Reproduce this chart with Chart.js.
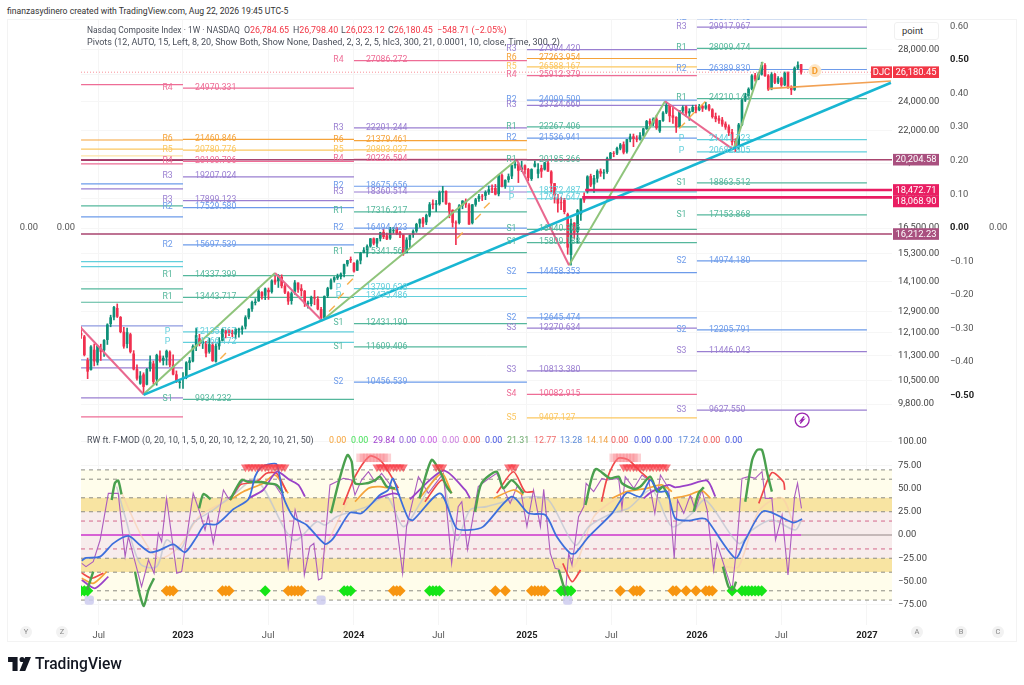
<!DOCTYPE html>
<html><head><meta charset="utf-8">
<script src="https://cdn.jsdelivr.net/npm/chart.js@4/dist/chart.umd.min.js"></script>
<style>
html,body{margin:0;padding:0;background:#fff;width:1024px;height:685px;overflow:hidden;font-family:Roboto,sans-serif}
canvas{position:absolute;left:0}
#frame{position:absolute;left:7px;top:19px;width:1010px;height:623px;border:1px solid #f3f3f3;box-sizing:border-box}
.t{position:absolute;white-space:nowrap;color:#4a4f5a;font-size:9.2px;line-height:12px}
.r{color:#f23645}
.c{position:absolute;width:12px;height:12px;border-radius:50%;background:#f2f2f2;color:#888;font-size:7.5px;line-height:12px;text-align:center}
#pt{position:absolute;left:894px;top:22px;width:45px;height:18px;border:1px solid #f0f0f0;border-radius:3px;box-sizing:border-box;font-size:9.4px;line-height:16px;color:#333;padding-left:7px;background:#fff}
</style></head><body>
<div id="frame"></div>
<canvas id="main" width="1024" height="411" style="top:19px"></canvas>
<canvas id="lower" width="1024" height="212" style="top:430px"></canvas>
<div class="t" style="left:7px;top:5px;color:#333;font-size:8.65px">finanzasydinero created with TradingView.com, Aug 22, 2026 19:45 UTC-5</div>
<div class="t" style="left:87px;top:24px;font-size:8.45px">Nasdaq Composite Index · 1W · NASDAQ</div>
<div class="t" style="left:244px;top:24px;font-size:8.9px">O<span class="r">26,784.65</span></div>
<div class="t" style="left:293px;top:24px;font-size:8.9px">H<span class="r">26,798.40</span></div>
<div class="t" style="left:341px;top:24px;font-size:8.9px">L<span class="r">26,023.12</span></div>
<div class="t" style="left:388px;top:24px;font-size:8.9px">C<span class="r">26,180.45</span></div>
<div class="t" style="left:437px;top:24px;font-size:8.9px"><span class="r">−548.71 (−2.05%)</span></div>
<div class="t" style="left:87px;top:36px;font-size:9.03px">Pivots (12, AUTO, 15, Left, 8, 20, Show Both, Show None, Dashed, 2, 3, 2, 5, hlc3, 300, 21, 0.0001, 10, close, Time, 300, 2)</div>
<div class="t" style="left:87px;top:434px;font-size:8.85px">RW ft. F-MOD (0, 20, 10, 1, 5, 0, 20, 10, 12, 2, 20, 10, 21, 50)</div>
<div id="pt">point</div>
<div class="c" style="left:20px;top:626px">Y</div><div class="c" style="left:56px;top:626px">Z</div>
<div class="c" style="left:911px;top:626px">A</div><div class="c" style="left:955px;top:626px">B</div><div class="c" style="left:992px;top:626px">C</div>
<svg style="position:absolute;left:8px;top:657px" width="23" height="14" viewBox="0 0 36 22"><path d="M0 0H15V22H7V8H0Z M22 0a4 4 0 1 1 0 8a4 4 0 1 1 0-8Z M27 0H36L27 22H18Z" fill="#131722"/></svg>
<div class="t" style="left:35px;top:654px;color:#131722;font-size:15.6px;line-height:20px;font-weight:500">TradingView</div>
<script>
// ---------- weekly candles, week 0 = first week of 2023 ----------
const firstWeek = -31;
const weekOpen = [12080,11960,11150,10850,11500,11090,11540,11500,11860,12430,12680,13010,12670,12130,11720,12040,11370,10860,10420,10690,10390,10880,11040,10550,11300,11150,11260,11430,11000,10690,10440,
10560,10600,11080,11130,11620,11900,11730,11740,11450,11670,11120,11640,11830,12170,12130,12080,12050,12200,12230,12340,12680,12990,13230,13300,13640,13520,13730,13670,14150,14110,14270,13900,13620,13310,13680,14030,13790,13690,13190,13190,13430,13360,12970,12660,13510,13790,14150,14240,14290,14420,14840,15040,
14870,14560,15000,15360,15480,15640,15990,15780,16010,16300,16130,16020,16370,16470,16290,16170,15330,15950,16190,16360,16740,16970,16800,17140,17730,17700,17730,18350,18400,17750,17400,16760,16770,17650,17880,17670,16760,17700,18000,18140,18170,18360,18540,18560,18260,19290,18690,19050,19250,19880,19940,19620,
19850,19630,19100,19810,19400,19700,19640,20010,19490,18830,17980,17790,17920,17180,15250,16750,16330,17200,18000,18400,19240,18800,19120,19530,19420,19500,20280,20590,20600,20900,21130,20700,21470,21630,21480,21470,21720,22140,22640,22500,22790,22000,22690,23250,23730,23020,22910,22290,23370,23640,23200,23310,
23600,23420,23660,23540,23720,23430,22960,22820,22720,22460,22270,21900,21330,20900,22420,24100,24420,24920,25920,25640,26020,26720,25900,24920,26020,25420,25720,25220,26120,25020,24870,26510,26784.65];
const weekHigh = [12320,12010,11230,11650,11710,11660,11700,11860,12430,12750,13090,13181,12700,12300,12270,12090,11480,11010,10790,10750,10890,11300,11130,11360,11470,11300,11500,11470,11340,10810,10520,
10760,11110,11250,11680,12270,12050,11880,11800,11910,11750,11710,11930,12250,12200,12230,12200,12270,12270,12350,12730,13000,13290,13390,13830,13670,13820,13820,14160,14300,14380,14370,13990,13670,13660,14130,14030,13960,13720,13290,13490,13720,13470,13050,13500,13850,14200,14290,14400,14450,14830,15000,15150,
14900,15020,15360,15580,15700,16000,16030,16010,16300,16450,16260,16540,16540,16540,16340,16180,16040,16180,16420,16740,16960,17030,17200,17800,17940,17910,18420,18670,18420,17780,17420,16860,17690,17900,17990,17740,17700,18020,18240,18230,18430,18690,18760,18780,19300,19370,19040,19370,19870,20200,20060,20120,
19900,19690,19670,20120,19970,19880,20050,20120,19560,18840,18240,18090,18010,17250,16960,16770,17440,18000,18320,19270,19360,19290,19610,19660,19620,20360,20650,20700,20980,21200,21300,21460,21800,21800,21690,21900,22180,22700,22800,22870,23050,22700,23300,23960,23800,23640,22950,23380,23700,23700,23500,23740,
23750,23800,23760,23950,23800,23500,23200,23000,22900,22600,22400,22100,21500,22500,24200,24600,25000,26000,26100,26150,26950,26850,26000,26150,26100,25850,25800,26200,26200,25150,26600,27000,26798.4];
const weekLow = [11900,11300,10565,10830,10970,11000,11150,11280,11690,12320,12570,12660,12100,11560,11570,11400,10840,10520,10390,10088,10370,10800,10400,10360,11090,11000,11000,10950,10680,10440,10270,
10265,10560,10850,11100,11480,11640,11550,11270,11390,11120,11090,11520,11810,11920,12000,11960,11890,11950,12050,12240,12610,12890,13140,13280,13370,13350,13360,13610,13970,13840,13820,13590,13160,13170,13560,13640,13490,13080,13020,13100,13150,12950,12540,12640,13430,13770,14060,14170,14190,14280,14740,14900,
14480,14550,14840,15330,15150,15590,15700,15620,15880,15990,15950,15960,16250,16180,16040,15220,15340,15570,16050,16290,16540,16560,16670,17060,17470,17330,17660,17830,17700,17010,16550,15710,16700,17470,17540,16680,16700,17600,17850,17900,17950,18230,18320,18200,18150,18640,18560,18900,19100,19700,18880,19500,
19350,18980,19000,19770,19150,19170,19590,19520,18370,17770,17300,17420,17210,15270,14784,16000,15800,16880,17800,18300,18650,18340,18900,19230,19090,19400,20240,20380,20500,20800,20550,20600,21300,21000,21300,21400,21650,22100,22200,22350,22100,21900,22630,23150,22600,22500,21900,22250,23130,22950,22700,23280,
23200,23350,23300,23450,23350,22850,22600,22500,22300,22100,21700,21100,20700,20800,22350,24000,24300,24850,25500,25600,25950,25850,24800,24850,25300,25300,25100,25150,24950,24500,24800,26400,26023.12];
const weekClose = [12013,11340,10798,11607,11128,11635,11452,11834,12391,12657,13047,12705,12141,11630,12112,11448,10868,10576,10652,10321,10860,11102,10475,11323,11146,11226,11461,11005,10705,10497,10466,
10569,11079,11140,11622,12007,11718,11787,11395,11689,11139,11631,11824,12222,12088,12123,12072,12227,12235,12284,12658,12975,13241,13259,13689,13493,13788,13661,14113,14063,14316,13909,13644,13290,13590,14031,13762,13708,13211,13219,13431,13407,12984,12643,13478,13798,14125,14250,14305,14403,14813,14992,15011,
14524,14972,15311,15455,15628,15990,15775,15996,16274,16085,15973,16428,16379,16248,16175,15282,15928,16156,16340,16686,16920,16735,17133,17688,17689,17732,18352,18398,17726,17358,16776,16745,17631,17878,17714,16691,17684,17948,18120,18138,18343,18490,18519,18240,19287,18680,19004,19218,19860,19927,19573,19722,
19622,19162,19630,19954,19627,19523,20026,19524,18847,18196,17754,17784,17323,15588,16724,16286,17383,17978,17929,19211,18737,19114,19530,19407,19447,20273,20601,20585,20896,21108,20650,21450,21623,21497,21456,21700,22141,22631,22484,22781,22204,22680,23205,23725,23005,22901,22273,23366,23578,23195,23307,23593,
23400,23650,23530,23700,23450,22950,22800,22700,22450,22250,21900,21300,20900,22400,24100,24400,24900,25900,25650,26000,26700,25900,24900,26000,25400,25700,25200,26100,25000,24850,26500,26729,26180.45];

// ---------- pivot columns: [first week, last week] ----------
const pivotSpans = [[-31,0],[0,52],[52,104.6],[104.6,156.3],[156.3,208]];
const pivotNames = [
 ['R4','R6','R5','R5b','R4b','R4','R2','R3','R1','R2','P','P','R1','R1','R2b','R2b','R3','R3','R4'],
 ['R4','R6','R5','R4','R3','R3','R2','R2','R1','R1','P','P','S1'],
 ['R4','R3','R6','R5','R4','R2','R3','R1','R2','R1','P','P','S1','S1','S2'],
 ['R3','R6','R5','R4','R2','R3','R1','R2','R1','P','P','S1','S1','S2','S2','S3','S3','S4','S5'],
 ['R2','R3','R1','R2','R1','P','P','S1','S1','S2','S2','S3','S3']];
const pivotValues = [
 [25228,21418,20850,20431,20160,19950,18803,18527,17619,17054,14939,14720,13780,13248,12350,11167,10905,9980,9437],
 [24970.331,21460.846,20780.776,20100.706,19207.024,17899.123,17529.580,15697.539,14337.399,13443.717,12135.767,11766.172,9934.232],
 [27086.272,22201.244,21379.461,20803.027,20226.594,18675.656,18360.514,17316.217,16494.423,15341.561,13790.628,13475.486,12431.190,11609.406,10456.539],
 [27994.420,27263.954,26588.167,25912.379,24099.500,23724.660,22267.406,21536.941,20185.366,18372.487,17997.647,16440.365,15809.188,14458.353,12645.474,12270.634,10813.380,10082.915,9407.127],
 [30677.745,29917.967,28099.474,26389.830,24210.143,21441.723,20682.805,18863.512,17153.868,14974.180,12205.791,11446.043,9627.550]];
const pivotColors = {R6:'#f5a33a',R5:'#fbc761',R5b:'#fde3a7',R4:'#ee6d96',R4b:'#a5305f',R3:'#9a7fd1',R2:'#6d9bea',R2b:'#8f9be0',R1:'#55b79c',P:'#62cfdc',S1:'#55b79c',S2:'#6d9bea',S3:'#9a7fd1',S4:'#ee6d96',S5:'#fbc761'};

// ---------- price overlays [week, value] ----------
const trendLine = [[-12,10069],[215.3,25379]];
const supportLine = [[178.1,24935],[215.3,25506]];
const zigzagDown = [[[-31,12275],[-12,10088]],[[28,14446],[42.3,12543]],[[101.5,20204],[117.4,14784]],[[146.6,24019],[167.4,20820]]];
const zigzagUp = [[[-12,10088],[28,14446]],[[42.3,12543],[101.5,20204]],[[117.4,14784],[146.6,24019]],[[167.4,20820],[176.3,27000]]];
const levelFull = [20204.58,16212.23];
const levelPink = [[122.3,18472.71],[121.4,18068.90]];
const lastPrice = 26180.45;
const orangeTicks = [[12.2,11300],[45.3,13000],[48,13500],[50.8,14080],[84.2,16150],[89.7,17060],[92.4,17640],[151.8,22350],[154.8,23070],[158,23800]];
const markerD = [192.2,26300];
const markerFlash = [188.3,9347];
const tagValues = [26180.45,20204.58,18472.71,18068.90,16212.23];
const tagTexts = ['26,180.45','20,204.58','18,472.71','18,068.90','16,212.23'];
const tagColors = ['#f23645','#a9507f','#e91e63','#e91e63','#a9507f'];

// ---------- axes ----------
const priceTicks = [28000,26000,24000,22000,20000,18000,16500,15300,14100,12900,12100,11300,10500,9800];
const sideTicks = [0.6,0.5,0.4,0.3,0.2,0.1,0,-0.1,-0.2,-0.3,-0.4,-0.5];
const oscTicks = [100,75,50,25,0,-25,-50,-75];
const timeTicks = [-25.6,0,25.9,51.9,77.7,104.6,130.3,156.3,182,208];
const timeLabels = ['Jul','2023','Jul','2024','Jul','2025','Jul','2026','Jul','2027'];

// ---------- oscillator series [week, value] ----------
const oscBlue = [[-30.8,-27.6],[-29.5,-24.7],[-25.2,-23.3],[-21.2,-9],[-16.6,-1],[-13.1,-10.8],[-10,-18.6],[-7,-16.1],[-2.9,-10],[0.6,-18.6],[4.2,-1.8],[6.7,11.5],[10.2,11.5],[15.3,27.6],[19.9,38.4],[21.9,62.7],[23.4,71.7],[25.4,75.3],[28.5,76],[30.5,41.2],[33.6,19],[37.6,10.8],[43.2,-9.7],[45.7,-3.6],[50.8,24],[54.3,23.3],[59.9,43],[62.4,48.4],[63.8,60.9],[65.5,44.8],[68.5,17.9],[70,16.1],[78.2,44.8],[83.2,7.2],[87.3,5.4],[91.3,9],[100,41.2],[105.1,23.3],[110.2,21.5],[113.7,-1.8],[117.8,-19.7],[119.3,-19.7],[123.4,-1.8],[130.5,23.3],[135,45.5],[139.1,41.2],[142.1,59.1],[144.7,46.6],[147.2,46.6],[149.7,17.9],[153.8,15.4],[157.8,17.9],[159.4,16.1],[168,-25],[171,-5.4],[176.6,25.8],[185.7,13.3],[188.3,17.2]];
const oscThin = [[-30.8,-30.5],[-29.5,-34],[-27.3,-28.7],[-25.2,-5.4],[-22.7,44.8],[-19.7,44.8],[-17.6,-23.3],[-16.6,-1.8],[-12.6,-55.6],[-10.5,-26.9],[-8.8,-41.2],[-7.5,1.8],[-6.5,-7.2],[-5,39.4],[-1.9,-41.2],[-0.4,-39.4],[3.1,44.8],[5.2,23.3],[6.7,5.4],[7.7,21.5],[9.2,-9],[12.3,48.4],[13.8,39.4],[15.8,44.8],[18.3,59.1],[24.4,57.3],[28,53.8],[30,43],[32,-34],[34.1,26.9],[36.1,-1.8],[36.9,-43],[38.6,-12.5],[39.8,-9],[41.2,-48.4],[42.2,-46.6],[44.7,53.8],[48.8,60.9],[51.3,59.1],[52.3,43],[54.3,59.1],[56.4,68.1],[58.4,57.3],[60.4,66.3],[63.5,52],[66.8,-41.2],[68,9],[71.6,62.7],[74.6,44.8],[79.2,66.3],[81.7,-30.5],[83.7,30.5],[84.8,35.8],[86.5,-15.4],[89.8,52],[92.4,59.1],[95.4,66.3],[99.5,34],[101.6,52],[102.6,50.2],[104.6,9],[106.6,48.4],[108.7,9],[109.7,49.1],[111.7,-19.7],[113.2,-35.8],[114.3,-36.9],[116.3,-62.7],[117.3,-19.7],[118.3,-32.3],[120.3,19.7],[121.9,30.5],[122.6,55.6],[124.9,46.6],[127.4,60.9],[128.9,59.1],[132.5,60.9],[133.5,28.7],[134.5,62.7],[137.1,50.2],[139.6,64.5],[141.6,59.1],[143.5,23.3],[145.2,64.5],[147.7,50.2],[149.4,-25],[150.4,37.6],[152.3,23.3],[154.3,43],[155.8,26.9],[157.8,48.4],[159.4,26.9],[161.4,-37.6],[162.4,-9],[165,-37.6],[167,-59.1],[168.5,-9],[170,60.9],[172,62.7],[174,60.9],[176.1,68.1],[177.1,39.4],[179.1,39.4],[180.2,-5.4],[182.2,21.5],[184,-43],[186,41.2],[186.9,55.6],[188.1,28.7]];
const oscGrey = [[-20.2,52],[-17.6,19.7],[-13.1,-30.5],[-8,-34],[-5,-5.4],[-0.9,-16.1],[3.1,12.5],[9.2,26.9],[15.3,43],[22.4,59.1],[33.6,-5.4],[40.7,14.3],[43.2,10.8],[46.7,19.7],[55.9,30.5],[62,41.2],[67,9],[72.1,34],[78.2,66.3],[83.2,-5.4],[87.3,26.9],[92.4,30.5],[100,37.6],[106.1,41.2],[111.2,37.6],[119.3,-10.8],[123.4,9],[130.5,23.3],[135.5,28.7],[142.6,48.4],[148.7,9],[154.8,23.3],[158.9,37.6],[169,-9],[173.1,5.4],[179.1,16.1],[186.2,5.4],[188.1,16.1]];
const oscPeach = [[[-19,48],[-12,-5],[-7,-25],[-1,-12],[5,20],[14,38]],[[41,-42],[44,-9],[50,36]],[[113.5,-34],[119,-34],[125,20],[132,40]],[[165,-34],[169,-34],[175,25],[182,40],[186,8]]];
const oscGreen = [[[-29.1,-59],[-27.3,-39.4]],[[-21.7,37.6],[-20.7,55.9],[-19.7,58.4],[-18.7,43.7]],[[-14.6,-39.4],[-13.1,-64.5],[-11.9,-76.3],[-10.5,-59.1],[-8.8,-46.6]],[[4.9,28.7],[6.2,44],[8.4,38.4]],[[14.3,37.6],[17.8,59],[19.9,57],[23.9,57],[25.4,55.6],[28.5,53.8],[30.5,44.8]],[[45,23.3],[47.8,62.7],[50,86],[51.3,78.9],[52.3,55.6],[55.9,55.6],[58.4,59],[59.9,62.7],[62,52],[64.5,50.2]],[[71.9,39.4],[75.6,80.6],[78.2,68.1],[80.2,52],[81.7,44.8]],[[88.8,25],[90.8,55.6],[95.4,68.1],[97.4,50.2],[100,59],[103.6,44.8]],[[114.3,-37.6],[116.5,-64.5]],[[122.4,32.3],[125.4,70.6],[129.9,60.9],[132.5,62.7],[133.5,55.6],[137.1,49.5],[139.1,52],[142.1,62.7],[144.2,46.6],[145.9,52],[147.7,41.2]],[[155.3,25],[156.8,44.8],[158.4,51.3]],[[164.2,-34],[165.9,-55.6],[167.2,-59.1],[168.2,-50.2]],[[171,35.8],[173.1,80.6],[174.6,91.4],[176.1,91.4],[177.7,66.3],[179.1,46.6]]];
const oscRed = [[[-30.8,-41],[-27.8,-46.6],[-24.2,-41]],[[14.3,37.6],[17.3,53.8],[22.4,57.3],[25.4,66.3],[28.5,66.3],[31.5,46.6]],[[48.8,32.3],[52.3,62.7],[56.9,84.9],[60.4,78.9],[64,59.1],[65.5,50.2]],[[73.6,35.8],[78.7,59.1],[81.2,46.6]],[[95.4,44.8],[100.5,68],[104,46.6],[106.6,46.6]],[[115.5,-30.5],[118.3,-50.2],[120.9,-37.6]],[[127.3,35.8],[129,60.9],[132.3,82.4],[135.5,80.6],[139.1,68.1],[142.1,59.1]],[[175.1,34],[179.1,67],[182.6,57.3],[183,48.4]]];
const oscOrange = [[[-30.8,-46.6],[-27.3,-52],[-23.2,-39.4]],[[14.3,37.6],[18.3,46.6],[24.4,55.6],[28,64.5],[32,44.8]],[[52.3,35.8],[56.4,50.2],[59.9,52],[65.5,48.4]],[[71.9,39.4],[78.7,66.3],[81.7,44.8]],[[94.4,39.4],[100.5,48.4],[103.5,43]],[[130.5,39.4],[135,46.6],[141.1,50.2],[145.6,53.8],[148.7,46.6]],[[149.2,39.4],[153.8,43],[157.8,47.7],[160.4,39.4]]];
const oscPurple = [[[-30.8,-48.4],[-26.8,-57.3],[-22.7,-44.8]],[[19.9,39.4],[24.4,48.4],[28.5,68],[32.5,59.1],[35.1,53.8],[37.1,41.2]],[[58.9,39.4],[64,44.8],[66,43]],[[69,38.4],[79.2,69.2],[85.8,48.4],[87.3,39.4]],[[140.1,39.4],[142.6,46.6],[147.7,53.8],[149.7,51.3],[153.8,53.8],[159.4,58.4],[161.9,41.2]]];
const redTriangleWeeks = [19,20,21,22,23,24,25,26,27,28,29,30,31,59,60,61,62,63,64,65,66,67,77,78,79,99,100,101,134,135,136,137,138,139,140,141,142,143,144,145,146,147];
const redTriangleLevel = 73;
const pinkSquareWeeks = [54,55,56,57,58,59,60,61,62,131,132,133,134,135,136,137,138];
const pinkSquareLevel = 83;
const orangeDiamondWeeks = [-5,-4,-3,12,13,14,32,33,34,35,36,64,65,66,95,98,106,107,108,109,110,133,137,138,139,149,150,153,156,159,160,161];
const greenDiamondWeeks = [-31,-30,-29,25,49,50,51,75,76,77,78,115,116,117,118,167,170,171,172,173,174,175,176];
const diamondLevel = -60;
const lavenderWeeks = [-28.5,42,117];
const lavenderLevel = -70;
const bandRanges = [[40,70,'#fffdeb'],[25,40,'#f8e4a2'],[-25,25,'#f7ecec'],[-40,-25,'#f8e4a2'],[-70,-40,'#fffdeb']];
const greyDashLevels = [70,60,40,25,-25,-40,-60,-70];
const pinkDashLevels = [15,-15];
const legendTexts = ['0.00','0.00','29.84','0.00','0.00','0.00','0.00','0.00','21.31','12.77','13.28','14.14','0.00','0.00','0.00','17.24','0.00','0.00'];
const legendColors = ['#f5a33a','#46e05a','#a040d0','#8a5ad9','#c555e0','#c977dd','#ef5350','#3f51e0','#6aa86a','#ef6b6b','#5b8bd9','#f0a040','#ef5350','#3f51e0','#3f51e0','#5b8bd9','#ef5350','#3f51e0'];
const legendLeft = [329,351,373,399,420,442,463,485,507,534,560,586,611,634,655,678,703,725];

// ---------- helpers ----------
legendTexts.forEach((s,i)=>{const d=document.createElement('div');d.className='t';d.textContent=s;d.style.cssText=`left:${legendLeft[i]}px;top:434px;font-size:8.9px;color:${legendColors[i]}`;document.body.appendChild(d);});
const pts = a => a.map(p=>({x:p[0],y:p[1]}));
const WMIN=-31.02, WMAX=215.63;
const FONT='Roboto, sans-serif';
const line=(data,color,width,order,yAxisID,extra)=>Object.assign({type:'line',data:pts(data),borderColor:color,borderWidth:width,pointRadius:0,fill:false,tension:0,order,yAxisID},extra||{});
const noPad=s=>{s.paddingTop=0;s.paddingBottom=0;s.paddingLeft=0;s.paddingRight=0;};
const fixedWidth=w=>s=>{s.width=w;noPad(s);};
const fixTicks=list=>s=>{s.ticks=list.map(v=>({value:v}));};
const hiddenSide=(pos,w,pad,min,max,list,fmt,weight,bold)=>({type:'linear',position:pos,min,max,weight,afterFit:fixedWidth(w),afterBuildTicks:fixTicks(list),border:{display:false},grid:{display:false,drawTicks:false},
  ticks:{padding:pad,autoSkip:false,color:c=>bold&&c.tick&&(Math.abs(c.tick.value)===0.5||c.tick.value===0)?'#222':'#555',font:c=>({family:FONT,size:9.4,weight:(bold&&c.tick&&(Math.abs(c.tick.value)===0.5||c.tick.value===0))?'700':'400'}),callback:fmt}});
const fmtSide=v=>(v<0?'−':'')+Math.abs(v).toFixed(2);
const isYear=c=>c.tick?/\d/.test(timeLabels[timeTicks.indexOf(c.tick.value)]||''):false;
const xScale=(show)=>({type:'linear',min:WMIN,max:WMAX,offset:false,display:true,afterBuildTicks:fixTicks(timeTicks),afterFit:s=>{s.height=show?17:0;noPad(s);},border:{display:false},
  grid:{color:'#f5f5f5',drawTicks:false,offset:false},
  ticks:{display:show,autoSkip:false,maxRotation:0,padding:5,color:c=>isYear(c)?'#222':'#555',font:c=>({family:FONT,size:9.4,weight:isYear(c)?'700':'400'}),callback:(v,i)=>timeLabels[i]}});

// ---------- main pane datasets ----------
const mainSets=[];
pivotSpans.forEach((span,c)=>{pivotValues[c].forEach((v,i)=>{
  const n=pivotNames[c][i];
  mainSets.push(line([[span[0],v],[span[1],v]],pivotColors[n],1.2,40,'yMain'));
});});
const weeks=weekClose.map((_,i)=>firstWeek+i);
const candleColor=i=>weekClose[i]>=weekOpen[i]?'#0e8f78':'#f0304f';
mainSets.push({type:'bar',grouped:false,yAxisID:'yMain',order:30,barThickness:1,data:weeks.map((w,i)=>({x:w,y:[weekLow[i],weekHigh[i]]})),backgroundColor:weeks.map((_,i)=>candleColor(i))});
mainSets.push({type:'bar',grouped:false,yAxisID:'yMain',order:29,barThickness:2,data:weeks.map((w,i)=>({x:w,y:[weekOpen[i],weekClose[i]]})),backgroundColor:weeks.map((_,i)=>candleColor(i))});
mainSets.push(line(trendLine,'#18b6d2',2.6,8,'yMain'));
mainSets.push(line(supportLine,'#f2a154',1.6,8,'yMain'));
zigzagDown.forEach(s=>mainSets.push(line(s,'#e9688f',2,9,'yMain')));
zigzagUp.forEach(s=>mainSets.push(line(s,'#8fc47b',2,9,'yMain')));
levelFull.forEach(v=>mainSets.push(line([[WMIN,v],[WMAX,v]],'#a8456f',1.5,7,'yMain')));
levelPink.forEach(p=>mainSets.push(line([p,[WMAX,p[1]]],'#e91e63',2.6,6,'yMain')));
mainSets.push(line([[WMIN,lastPrice],[WMAX,lastPrice]],'rgba(242,54,69,.55)',1,7,'yMain',{borderDash:[1,2]}));
mainSets.push({type:'scatter',yAxisID:'yMain',order:5,data:pts(orangeTicks),pointStyle:'line',rotation:-45,pointRadius:4,borderColor:'#f7b04a',borderWidth:1.4,pointBorderColor:'#f7b04a',pointBorderWidth:1.4});
mainSets.push({type:'scatter',yAxisID:'yMain',order:4,data:pts([markerD]),pointStyle:'circle',pointRadius:6,pointBackgroundColor:'#fde5c4',pointBorderColor:'#fde5c4'});
mainSets.push({type:'scatter',yAxisID:'yMain',order:4,data:pts([markerFlash]),pointStyle:'circle',pointRadius:7,pointBackgroundColor:'#fff',pointBorderColor:'#9c27b0',pointBorderWidth:1.3});

// ---------- plugins ----------
const pivotTextPlugin={id:'pivotText',afterDatasetsDraw(chart){
  const {ctx,chartArea:a,scales:{x,yMain}}=chart;
  ctx.save();ctx.beginPath();ctx.rect(a.left,a.top,a.right-a.left,a.bottom-a.top);ctx.clip();
  ctx.font='8.7px '+FONT;ctx.textBaseline='middle';
  pivotSpans.forEach((span,c)=>{ if(c===0) return;
    const sx=x.getPixelForValue(span[0]);
    pivotValues[c].forEach((v,i)=>{
      const n=pivotNames[c][i],y=yMain.getPixelForValue(v);
      ctx.fillStyle=pivotColors[n];
      ctx.textAlign='center';ctx.fillText(n,sx-15.5,y-0.5);
      ctx.textAlign='left';ctx.fillText(v.toFixed(3),sx+12,y-0.5);
    });
  });
  // marker glyphs
  const dx=x.getPixelForValue(markerD[0]),dy=yMain.getPixelForValue(markerD[1]);
  ctx.fillStyle='#f59e2e';ctx.font='700 9.5px '+FONT;ctx.textAlign='center';ctx.fillText('D',dx,dy+0.5);
  const fx=x.getPixelForValue(markerFlash[0]),fy=yMain.getPixelForValue(markerFlash[1]);
  ctx.strokeStyle='#9c27b0';ctx.lineWidth=1.3;ctx.beginPath();ctx.moveTo(fx+2,fy-3.5);ctx.lineTo(fx-1.5,fy+0.5);ctx.lineTo(fx+1.5,fy-0.5);ctx.lineTo(fx-2,fy+3.5);ctx.stroke();
  ctx.restore();
},afterDraw(chart){
  const {ctx,scales:{yMain}}=chart;
  ctx.save();ctx.font='400 9.4px '+FONT;ctx.textBaseline='middle';
  let prev=-100;
  tagValues.forEach((v,i)=>{
    let y=yMain.getPixelForValue(v);
    if(y-prev<11.5) y=prev+11.5;
    prev=y;
    ctx.fillStyle=tagColors[i];ctx.fillRect(893,y-5.8,46,11.6);
    ctx.fillStyle='#fff';ctx.textAlign='center';ctx.fillText(tagTexts[i],916,y+0.4);
    if(i===0){ctx.fillStyle='#f23645';ctx.fillRect(871,y-5.8,21,11.6);ctx.fillStyle='#fff';ctx.fillText('DJC',881.5,y+0.4);}
  });
  ctx.restore();
}};
const bandPlugin={id:'bands',beforeDatasetsDraw(chart){
  const {ctx,chartArea:a,scales:{yOsc}}=chart;
  bandRanges.forEach(b=>{const t=yOsc.getPixelForValue(b[1]),u=yOsc.getPixelForValue(b[0]);ctx.fillStyle=b[2];ctx.fillRect(a.left,t,a.right-a.left,u-t);});
}};

new Chart(document.getElementById('main'),{type:'line',data:{datasets:mainSets},plugins:[pivotTextPlugin],
 options:{responsive:false,animation:false,devicePixelRatio:1,events:[],parsing:true,layout:{padding:0,autoPadding:false},plugins:{legend:{display:false},tooltip:{enabled:false},title:{display:false}},
 scales:{x:Object.assign(xScale(false),{}),
  yMain:{type:'logarithmic',position:'right',weight:1,bounds:'data',min:9075,max:30646,afterFit:fixedWidth(55),afterBuildTicks:fixTicks(priceTicks),border:{display:false},grid:{color:'#f6f6f6',drawTicks:false},
    ticks:{padding:6,autoSkip:false,color:'#444',font:{family:FONT,size:9.4},callback:v=>v.toLocaleString('en-US',{minimumFractionDigits:2,maximumFractionDigits:2})}},
  yR1:hiddenSide('right',40,3,-0.6029,0.622,sideTicks,fmtSide,2,true),
  yR2:hiddenSide('right',37,2,-0.6029,0.622,[0],fmtSide,3,false),
  yL2:hiddenSide('left',41,6,-0.6029,0.622,[0],fmtSide,1,false),
  yL1:hiddenSide('left',40,2,-0.6029,0.622,[0],fmtSide,2,false)
 }}});

// ---------- lower pane datasets ----------
const lowSets=[];
greyDashLevels.forEach(v=>lowSets.push(line([[WMIN,v],[WMAX,v]],'#8d8d84',1,40,'yOsc',{borderDash:[4,4]})));
pinkDashLevels.forEach(v=>lowSets.push(line([[WMIN,v],[WMAX,v]],'#d4688c',1,40,'yOsc',{borderDash:[4,4]})));
lowSets.push(line([[WMIN,0],[188,0]],'#cc33cc',1.5,30,'yOsc'));
lowSets.push(line([[188,0],[WMAX,0]],'#b5a9a9',1.5,30,'yOsc'));
lowSets.push(line(oscGrey,'rgba(190,196,210,.75)',1.6,25,'yOsc',{tension:.3}));
oscPeach.forEach(s=>lowSets.push(line(s,'rgba(250,205,170,.6)',1.6,25,'yOsc',{tension:.3})));
lowSets.push(line(oscThin,'#ab5cbf',1.1,20,'yOsc'));
oscOrange.forEach(s=>lowSets.push(line(s,'#f5a33a',1.7,15,'yOsc',{tension:.25})));
oscRed.forEach(s=>lowSets.push(line(s,'#f0484a',1.7,14,'yOsc',{tension:.25})));
oscPurple.forEach(s=>lowSets.push(line(s,'#9a42c8',1.8,13,'yOsc',{tension:.25})));
oscGreen.forEach(s=>lowSets.push(line(s,'#4aa04e',2.4,12,'yOsc',{tension:.25})));
lowSets.push(line(oscBlue,'#3d6fdc',1.8,10,'yOsc',{tension:.25}));
const marks=(list,level,style,r,color,order,rot)=>({type:'scatter',yAxisID:'yOsc',order,data:list.map(w=>({x:w,y:level})),pointStyle:style,pointRadius:r,rotation:rot||0,pointBackgroundColor:color,pointBorderColor:color,pointBorderWidth:0});
lowSets.push(marks(pinkSquareWeeks,pinkSquareLevel,'rect',6,'rgba(250,120,130,.35)',6));
lowSets.push(marks(redTriangleWeeks,redTriangleLevel,'triangle',5.2,'rgba(248,60,70,.7)',5,180));
lowSets.push(marks(orangeDiamondWeeks,diamondLevel,'rectRot',5.6,'#f7950f',18));
lowSets.push(marks(greenDiamondWeeks,diamondLevel,'rectRot',5.6,'#16e516',18));
lowSets.push(marks(lavenderWeeks,lavenderLevel,'rectRounded',5.4,'rgba(205,203,238,.85)',19));

new Chart(document.getElementById('lower'),{type:'line',data:{datasets:lowSets},plugins:[bandPlugin],
 options:{responsive:false,animation:false,devicePixelRatio:1,events:[],layout:{padding:{left:81,top:0,right:0,bottom:0},autoPadding:false},plugins:{legend:{display:false},tooltip:{enabled:false}},
 scales:{x:xScale(true),
  yOsc:{type:'linear',position:'right',min:-96.8,max:112.9,afterFit:fixedWidth(132),afterBuildTicks:fixTicks(oscTicks),border:{display:false},grid:{color:'#f6f6f6',drawTicks:false},
    ticks:{padding:6,autoSkip:false,color:'#444',font:{family:FONT,size:9.4},callback:v=>(v<0?'−':'')+Math.abs(v).toFixed(2)}}
 }}});
</script>
</body></html>
